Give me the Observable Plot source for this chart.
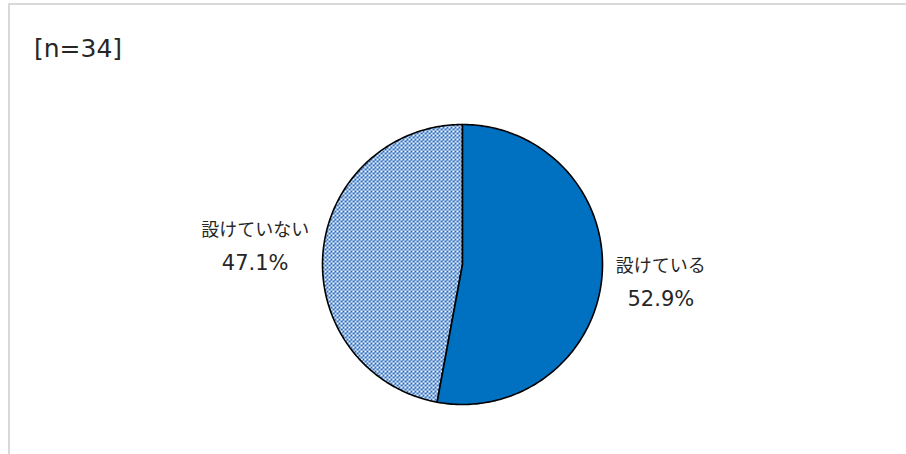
<!DOCTYPE html>
<html><head><meta charset="utf-8">
<script src="https://cdn.jsdelivr.net/npm/d3@7"></script>
<script src="https://cdn.jsdelivr.net/npm/@observablehq/plot@0.6"></script>
<style>
html,body{margin:0;padding:0;background:#fff;overflow:hidden}
#wrap{position:relative;width:906px;height:454px}
#frame{position:absolute;left:8px;top:3px;width:1000px;height:1000px;border-left:2px solid #d9d9d9;border-top:2px solid #d9d9d9}
#title{position:absolute;left:34px;top:36px;font-family:"DejaVu Sans";font-size:25px;line-height:1;color:#262626;white-space:nowrap}
#chart{position:absolute;left:0;top:0}
</style></head><body>
<div id="wrap"><div id="frame"></div><div id="title"></div><div id="chart"></div></div>
<script>
const categories = ["設けている", "設けていない"];
const values = [52.9, 47.1];
const percentLabels = ["52.9%", "47.1%"];
const titleText = "[n=34]";
const fills = ["#0070c0", "url(#dotgrid)"];

document.getElementById("title").textContent = titleText;

const arcs = d3.pie().sort(null)(values);
const slices = arcs.map((a, i) => ({
  category: categories[i], label: percentLabels[i], value: values[i],
  start: a.startAngle, end: a.endAngle, mid: (a.startAngle + a.endAngle) / 2, i
}));

function outline(s) {
  const n = Math.max(2, Math.ceil((s.end - s.start) / (Math.PI / 180)));
  const pts = [{x: 0, y: 0}];
  for (let k = 0; k <= n; k++) {
    const a = s.start + (s.end - s.start) * k / n;
    pts.push({x: Math.sin(a), y: Math.cos(a)});
  }
  pts.push({x: 0, y: 0});
  return pts;
}

const marks = [];
[...slices].reverse().forEach(s => {
  marks.push(Plot.line(outline(s), {x: "x", y: "y", fill: fills[s.i], stroke: "#000", strokeWidth: 1.6, strokeLinejoin: "round"}));
});
slices.forEach(s => {
  const side = Math.sign(Math.sin(s.mid));
  const half = s.category.length * 18 / 2;
  const pos = [{x: Math.sin(s.mid) * 1.1, y: Math.cos(s.mid) * 1.42}];
  marks.push(Plot.text(pos, {x: "x", y: "y", text: () => s.category, dx: side * half, dy: -16,
    fontFamily: "'Noto Sans CJK JP', sans-serif", fontSize: 18, fill: "#262626", textAnchor: "middle"}));
  marks.push(Plot.text(pos, {x: "x", y: "y", text: () => s.label, dx: side * half, dy: 16.5,
    fontFamily: "'DejaVu Sans', sans-serif", fontSize: 21, fill: "#262626", textAnchor: "middle"}));
});

const svg = Plot.plot({
  width: 906, height: 454,
  marginLeft: 322, marginRight: 304, marginTop: 124, marginBottom: 50,
  x: {domain: [-1, 1], axis: null},
  y: {domain: [-1, 1], axis: null},
  style: {background: "transparent", overflow: "visible"},
  marks
});
const defs = document.createElementNS("http://www.w3.org/2000/svg", "defs");
defs.innerHTML = '<pattern id="dotgrid" patternUnits="userSpaceOnUse" width="4" height="4">' +
  '<rect width="4" height="4" fill="#ffffff"/>' +
  '<rect width="2" height="2" fill="#2a6cc0"/>' +
  '<rect x="2" y="2" width="2" height="2" fill="#2a6cc0"/>' +
  '<rect x="2" y="0" width="1" height="1" fill="#5b8fd0"/></pattern>';
svg.insertBefore(defs, svg.firstChild);
document.getElementById("chart").appendChild(svg);
</script>
</body></html>
